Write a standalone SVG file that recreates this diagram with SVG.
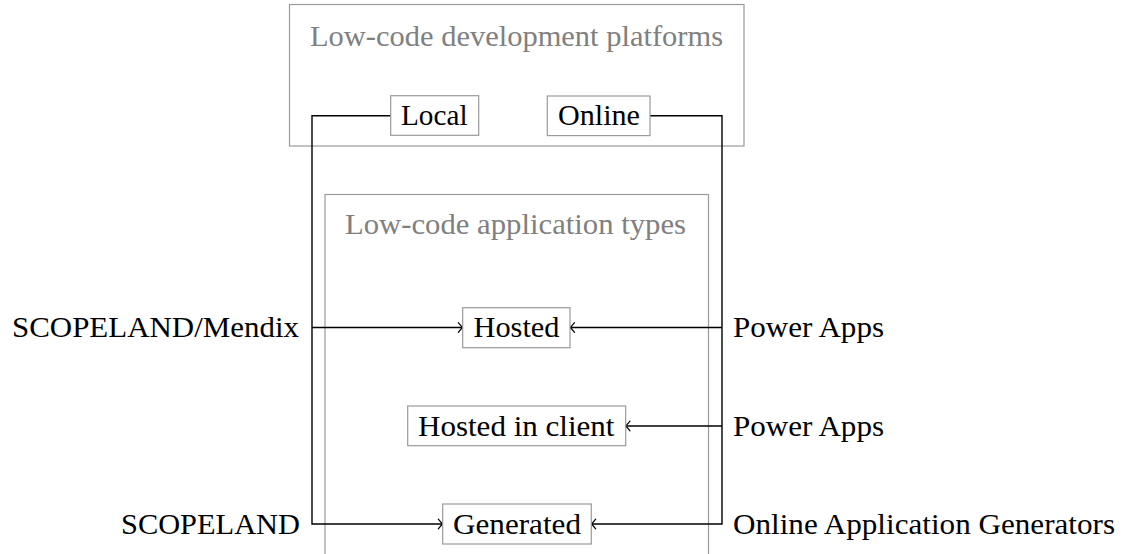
<svg xmlns="http://www.w3.org/2000/svg" width="1124" height="554" viewBox="0 0 1124 554">
  <style>
    text { font-family: 'Liberation Serif', 'DejaVu Serif', 'Times New Roman', Times, serif; font-size: 29px; fill: #000; }
    .g { fill: #808080; }
    .frame { fill: none; stroke: #9a9a9a; stroke-width: 1.2; }
    .box { fill: #fff; stroke: #9a9a9a; stroke-width: 1.2; }
    .conn { fill: none; stroke: #000; stroke-width: 1.4; }
  </style>
  <defs>
    <marker id="to" markerUnits="userSpaceOnUse" viewBox="-7 -7 9 14" refX="0" refY="0" markerWidth="9" markerHeight="14" orient="auto" overflow="visible">
      <path d="M-4.2,-4.8 Q-1.2,-1.2 0,0 Q-1.2,1.2 -4.2,4.8" fill="none" stroke="#000" stroke-width="1.2" stroke-linecap="round"/>
    </marker>
  </defs>
  <rect width="1124" height="554" fill="#fff"/>

  <g id="platforms">
    <rect class="frame" x="289.5" y="4.5" width="454.5" height="141.5"/>
    <text class="g" x="310" y="45.5" textLength="413" lengthAdjust="spacingAndGlyphs">Low-code development platforms</text>
  </g>

  <g id="apptypes">
    <rect class="frame" x="325" y="194.5" width="383.5" height="400"/>
    <text class="g" x="345" y="233.5" textLength="341" lengthAdjust="spacingAndGlyphs">Low-code application types</text>
  </g>

  <g id="connectors">
    <path class="conn" d="M390.7,115.7 H312 V524 H442.5" marker-end="url(#to)"/>
    <path class="conn" d="M312,327.5 H462.5" marker-end="url(#to)"/>
    <path class="conn" d="M650,115.7 H722 V524 H591.5" marker-end="url(#to)"/>
    <path class="conn" d="M722,327.5 H570.3" marker-end="url(#to)"/>
    <path class="conn" d="M722,426 H625.8" marker-end="url(#to)"/>
  </g>

  <g id="local">
    <rect class="box" x="390.7" y="95.7" width="88" height="39.6"/>
    <text x="401" y="125.2" textLength="66.5" lengthAdjust="spacingAndGlyphs">Local</text>
  </g>
  <g id="online">
    <rect class="box" x="547.3" y="96" width="102.7" height="39.6"/>
    <text x="558" y="125.4" textLength="82" lengthAdjust="spacingAndGlyphs">Online</text>
  </g>

  <g id="hosted">
    <rect class="box" x="462.7" y="307.7" width="107.3" height="40"/>
    <text x="473.5" y="337.3" textLength="86" lengthAdjust="spacingAndGlyphs">Hosted</text>
  </g>
  <g id="hosted-client">
    <rect class="box" x="407.7" y="406" width="218" height="39.7"/>
    <text x="418" y="435.6" textLength="196.5" lengthAdjust="spacingAndGlyphs">Hosted in client</text>
  </g>
  <g id="generated">
    <rect class="box" x="442.7" y="504" width="148.6" height="40"/>
    <text x="453" y="533.6" textLength="128" lengthAdjust="spacingAndGlyphs">Generated</text>
  </g>

  <g id="label-scopeland-mendix">
    <text x="12" y="337.3" textLength="287" lengthAdjust="spacingAndGlyphs">SCOPELAND/Mendix</text>
  </g>
  <g id="label-scopeland">
    <text x="121" y="533.6" textLength="179" lengthAdjust="spacingAndGlyphs">SCOPELAND</text>
  </g>
  <g id="label-powerapps-1">
    <text x="733" y="337.3" textLength="151" lengthAdjust="spacingAndGlyphs">Power Apps</text>
  </g>
  <g id="label-powerapps-2">
    <text x="733" y="435.6" textLength="151" lengthAdjust="spacingAndGlyphs">Power Apps</text>
  </g>
  <g id="label-generators">
    <text x="733" y="533.6" textLength="382" lengthAdjust="spacingAndGlyphs">Online Application Generators</text>
  </g>
</svg>
